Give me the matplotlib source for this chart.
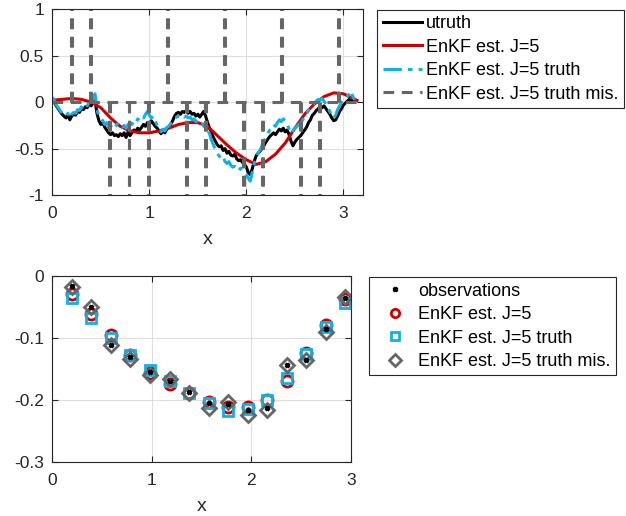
#!/usr/bin/env python3

import numpy as np
import matplotlib
matplotlib.use('Agg')
import matplotlib.pyplot as plt
from matplotlib.ticker import FormatStrFormatter

plt.rcParams['font.family'] = ['Liberation Sans', 'DejaVu Sans']
plt.rcParams['axes.unicode_minus'] = False
plt.rcParams['path.simplify'] = False

# ---- top panel data ----
truth_x = [0.00, 0.02, 0.04, 0.06, 0.08, 0.10, 0.12, 0.14, 0.16, 0.18, 0.20, 0.22, 0.24, 0.26, 0.28,
           0.30, 0.32, 0.34, 0.36, 0.38, 0.40, 0.42, 0.44, 0.45, 0.46, 0.48, 0.50, 0.52, 0.54, 0.56,
           0.58, 0.60, 0.62, 0.64, 0.66, 0.68, 0.70, 0.72, 0.74, 0.76, 0.78, 0.80, 0.82, 0.84, 0.86,
           0.88, 0.90, 0.92, 0.94, 0.96, 0.98, 1.00, 1.02, 1.04, 1.06, 1.08, 1.10, 1.12, 1.14, 1.16,
           1.18, 1.20, 1.22, 1.24, 1.26, 1.28, 1.30, 1.32, 1.34, 1.36, 1.38, 1.40, 1.42, 1.44, 1.46,
           1.48, 1.50, 1.52, 1.54, 1.56, 1.58, 1.60, 1.62, 1.64, 1.66, 1.68, 1.70, 1.72, 1.74, 1.76,
           1.78, 1.80, 1.82, 1.84, 1.86, 1.88, 1.90, 1.92, 1.94, 1.96, 1.98, 2.00, 2.02, 2.04, 2.06,
           2.08, 2.10, 2.12, 2.14, 2.16, 2.18, 2.20, 2.22, 2.24, 2.26, 2.28, 2.30, 2.32, 2.34, 2.36,
           2.38, 2.40, 2.42, 2.44, 2.46, 2.48, 2.50, 2.52, 2.54, 2.56, 2.58, 2.60, 2.62, 2.64, 2.66,
           2.68, 2.70, 2.72, 2.74, 2.76, 2.78, 2.80, 2.82, 2.84, 2.86, 2.88, 2.90, 2.92, 2.94, 2.96,
           2.98, 3.00, 3.02, 3.04, 3.06, 3.08, 3.10, 3.12]

utruth = [0.03, 0.00, -0.04, -0.07, -0.10, -0.13, -0.15, -0.17, -0.14, -0.19, -0.15, -0.13, -0.14, -0.10, -0.11,
          -0.07, -0.08, -0.05, -0.06, -0.02, -0.04, 0.01, 0.05, -0.05, -0.12, -0.20, -0.24, -0.22, -0.27, -0.30,
          -0.33, -0.35, -0.33, -0.36, -0.35, -0.37, -0.34, -0.36, -0.33, -0.38, -0.32, -0.36, -0.33, -0.30, -0.31,
          -0.28, -0.30, -0.27, -0.24, -0.26, -0.22, -0.24, -0.20, -0.23, -0.26, -0.28, -0.31, -0.34, -0.31, -0.33,
          -0.29, -0.27, -0.24, -0.20, -0.15, -0.12, -0.11, -0.13, -0.10, -0.11, -0.09, -0.12, -0.10, -0.13, -0.12,
          -0.15, -0.13, -0.16, -0.13, -0.10, -0.15, -0.22, -0.28, -0.33, -0.38, -0.42, -0.46, -0.48, -0.47, -0.52,
          -0.50, -0.55, -0.53, -0.57, -0.58, -0.56, -0.61, -0.63, -0.62, -0.65, -0.67, -0.70, -0.76, -0.78, -0.72,
          -0.64, -0.58, -0.55, -0.53, -0.50, -0.47, -0.43, -0.40, -0.37, -0.35, -0.33, -0.35, -0.32, -0.29, -0.31,
          -0.28, -0.32, -0.30, -0.35, -0.42, -0.47, -0.43, -0.40, -0.38, -0.36, -0.33, -0.30, -0.27, -0.22, -0.19,
          -0.14, -0.12, -0.09, -0.07, -0.05, -0.06, -0.04, -0.07, -0.10, -0.13, -0.17, -0.20, -0.19, -0.15, -0.10,
          -0.07, -0.03, -0.01, 0.01, 0.03, 0.02, 0.04, 0.02]

enkf_truth = [0.05, 0.02, -0.03, -0.06, -0.09, -0.12, -0.14, -0.15, -0.12, -0.17, -0.13, -0.11, -0.12, -0.08, -0.09,
              -0.05, -0.07, -0.03, -0.04, 0.00, -0.02, 0.05, 0.09, 0.00, -0.08, -0.15, -0.18, -0.20, -0.24, -0.22,
              -0.27, -0.25, -0.29, -0.27, -0.25, -0.22, -0.24, -0.27, -0.25, -0.28, -0.24, -0.22, -0.24, -0.20, -0.22,
              -0.18, -0.20, -0.16, -0.17, -0.13, -0.10, -0.14, -0.17, -0.15, -0.20, -0.25, -0.29, -0.32, -0.29, -0.31,
              -0.27, -0.26, -0.23, -0.21, -0.18, -0.16, -0.15, -0.16, -0.14, -0.16, -0.15, -0.17, -0.16, -0.19, -0.18,
              -0.21, -0.20, -0.23, -0.22, -0.26, -0.27, -0.30, -0.34, -0.41, -0.46, -0.51, -0.55, -0.58, -0.61, -0.59,
              -0.64, -0.66, -0.64, -0.68, -0.70, -0.69, -0.72, -0.74, -0.71, -0.74, -0.76, -0.78, -0.82, -0.85, -0.76,
              -0.66, -0.60, -0.55, -0.52, -0.47, -0.42, -0.38, -0.34, -0.30, -0.27, -0.24, -0.26, -0.22, -0.19, -0.21,
              -0.18, -0.20, -0.23, -0.29, -0.34, -0.31, -0.28, -0.26, -0.24, -0.22, -0.19, -0.16, -0.12, -0.09, -0.06,
              -0.03, -0.01, 0.01, 0.03, 0.02, 0.04, 0.01, -0.02, -0.06, -0.10, -0.14, -0.17, -0.14, -0.08, -0.04,
              0.00, 0.03, 0.05, 0.06, 0.09, 0.12, 0.05, 0.03]

est_x = [0.0, 0.1, 0.2, 0.3, 0.4, 0.5, 0.6, 0.7, 0.8, 0.9, 1.0, 1.1, 1.2, 1.3, 1.4, 1.5, 1.6,
         1.7, 1.8, 1.9, 2.0, 2.1, 2.2, 2.3, 2.4, 2.5, 2.6, 2.7, 2.8, 2.9, 3.0, 3.1, 3.14]
enkf_est = [0.02, 0.03, 0.04, 0.03, 0.00, -0.06, -0.17, -0.26, -0.31, -0.33, -0.33, -0.31, -0.28, -0.24, -0.22,
            -0.22, -0.26, -0.36, -0.46, -0.55, -0.62, -0.67, -0.64, -0.56, -0.44, -0.28, -0.13, -0.02, 0.06,
            0.10, 0.09, 0.04, 0.02]

# spikes of the misspecified estimate at the observation points (they run off the axes)
obs_x = [0.196, 0.393, 0.589, 0.785, 0.982, 1.178, 1.374, 1.571, 1.767, 1.963, 2.160, 2.356, 2.553, 2.749, 2.945]
mis_spike = [1.3, 1.3, -1.3, -1.3, -1.3, 1.3, -1.3, -1.3, 1.3, -1.3, -1.3, 1.3, -1.3, -1.3, 1.3]

# ---- bottom panel data ----
observations = [-0.017, -0.050, -0.111, -0.130, -0.154, -0.169, -0.1875, -0.205, -0.206, -0.216,
                -0.213, -0.144, -0.136, -0.085, -0.036]
obs_est = [-0.030, -0.062, -0.095, -0.127, -0.156, -0.174, -0.189, -0.2025, -0.211, -0.211,
           -0.200, -0.170, -0.125, -0.079, -0.037]
obs_truth = [-0.035, -0.068, -0.100, -0.128, -0.152, -0.170, -0.189, -0.205, -0.218, -0.214,
             -0.199, -0.165, -0.126, -0.082, -0.044]
obs_mis = [-0.018, -0.050, -0.111, -0.134, -0.160, -0.166, -0.188, -0.213, -0.2025, -0.224,
           -0.216, -0.144, -0.136, -0.090, -0.034]

RED = '#cc0000'
CYAN = '#12b0e3'
GREY = '#666666'
AX = '#262626'

fig = plt.figure(figsize=(6.26, 5.16), dpi=100)
ax1 = fig.add_axes([0.0836, 0.622, 0.496, 0.360])
ax2 = fig.add_axes([0.0836, 0.104, 0.4767, 0.3616])


def style(ax):
    ax.grid(True, color='#dedede', linewidth=0.8)
    ax.set_axisbelow(True)
    ax.tick_params(direction='in', length=4, width=0.8, colors=AX, labelsize=12.5,
                   top=True, right=True, labeltop=False, labelright=False)
    ax.tick_params(axis='x', pad=8)
    ax.tick_params(axis='y', pad=6)
    for s in ax.spines.values():
        s.set_color(AX)
        s.set_linewidth(0.8)
    ax.set_xlabel('x', fontsize=14, color=AX, labelpad=7)


l1, = ax1.plot(truth_x, utruth, color='black', lw=2.2, label='utruth')
l2, = ax1.plot(est_x, enkf_est, color=RED, lw=2.2, label='EnKF est. J=5')
l3, = ax1.plot(truth_x, enkf_truth, color=CYAN, lw=2.2, dashes=(6, 2, 1.5, 2), label='EnKF est. J=5 truth')

# misspecified estimate: flat at zero with twin vertical spikes at every observation point
mis_kw = dict(color=GREY, lw=2.2, dashes=(3.5, 2.5))
w = 0.01
l4, = ax1.plot([0.0, 3.14], [0.0, 0.0], label='EnKF est. J=5 truth mis.', **mis_kw)
for xk, h in zip(obs_x, mis_spike):
    ax1.plot([xk, xk], [0.0, h], **mis_kw)
    ax1.plot([xk + w, xk + w], [0.0, h], **mis_kw)

ax1.set_xlim(0, 3.2)
ax1.set_ylim(-1, 1)
ax1.set_xticks([0, 1, 2, 3])
ax1.set_yticks([-1, -0.5, 0, 0.5, 1])
ax1.yaxis.set_major_formatter(FormatStrFormatter('%g'))
style(ax1)

legkw = dict(loc='upper left', fontsize=13, handlelength=2.2, handletextpad=0.22, labelspacing=0.36,
             borderpad=0.3, borderaxespad=0, fancybox=False, framealpha=1, edgecolor=AX)

leg1 = fig.legend(handles=[l1, l2, l3, l4], bbox_to_anchor=(0.6025, 0.981), **legkw)
leg1.get_frame().set_linewidth(0.8)

m2, = ax2.plot(obs_x, obs_est, 'o', ms=8, mfc='none', mec=RED, mew=2, label='EnKF est. J=5', ls='none')
m3, = ax2.plot(obs_x, obs_truth, 's', ms=7.5, mfc='none', mec=CYAN, mew=2, label='EnKF est. J=5 truth', ls='none')
m4, = ax2.plot(obs_x, obs_mis, 'D', ms=7.5, mfc='none', mec=GREY, mew=2, label='EnKF est. J=5 truth mis.', ls='none')
m1, = ax2.plot(obs_x, observations, 'x', ms=3.5, color='black', mew=2, label='observations', ls='none')
ax2.set_xlim(0, 3)
ax2.set_ylim(-0.3, 0)
ax2.set_xticks([0, 1, 2, 3])
ax2.set_yticks([-0.3, -0.2, -0.1, 0])
ax2.yaxis.set_major_formatter(FormatStrFormatter('%g'))
style(ax2)

leg2 = fig.legend(handles=[m1, m2, m3, m4], bbox_to_anchor=(0.590, 0.463), markerscale=0.75, **legkw)
leg2.get_frame().set_linewidth(0.8)

fig.savefig('out.png', dpi=100)
